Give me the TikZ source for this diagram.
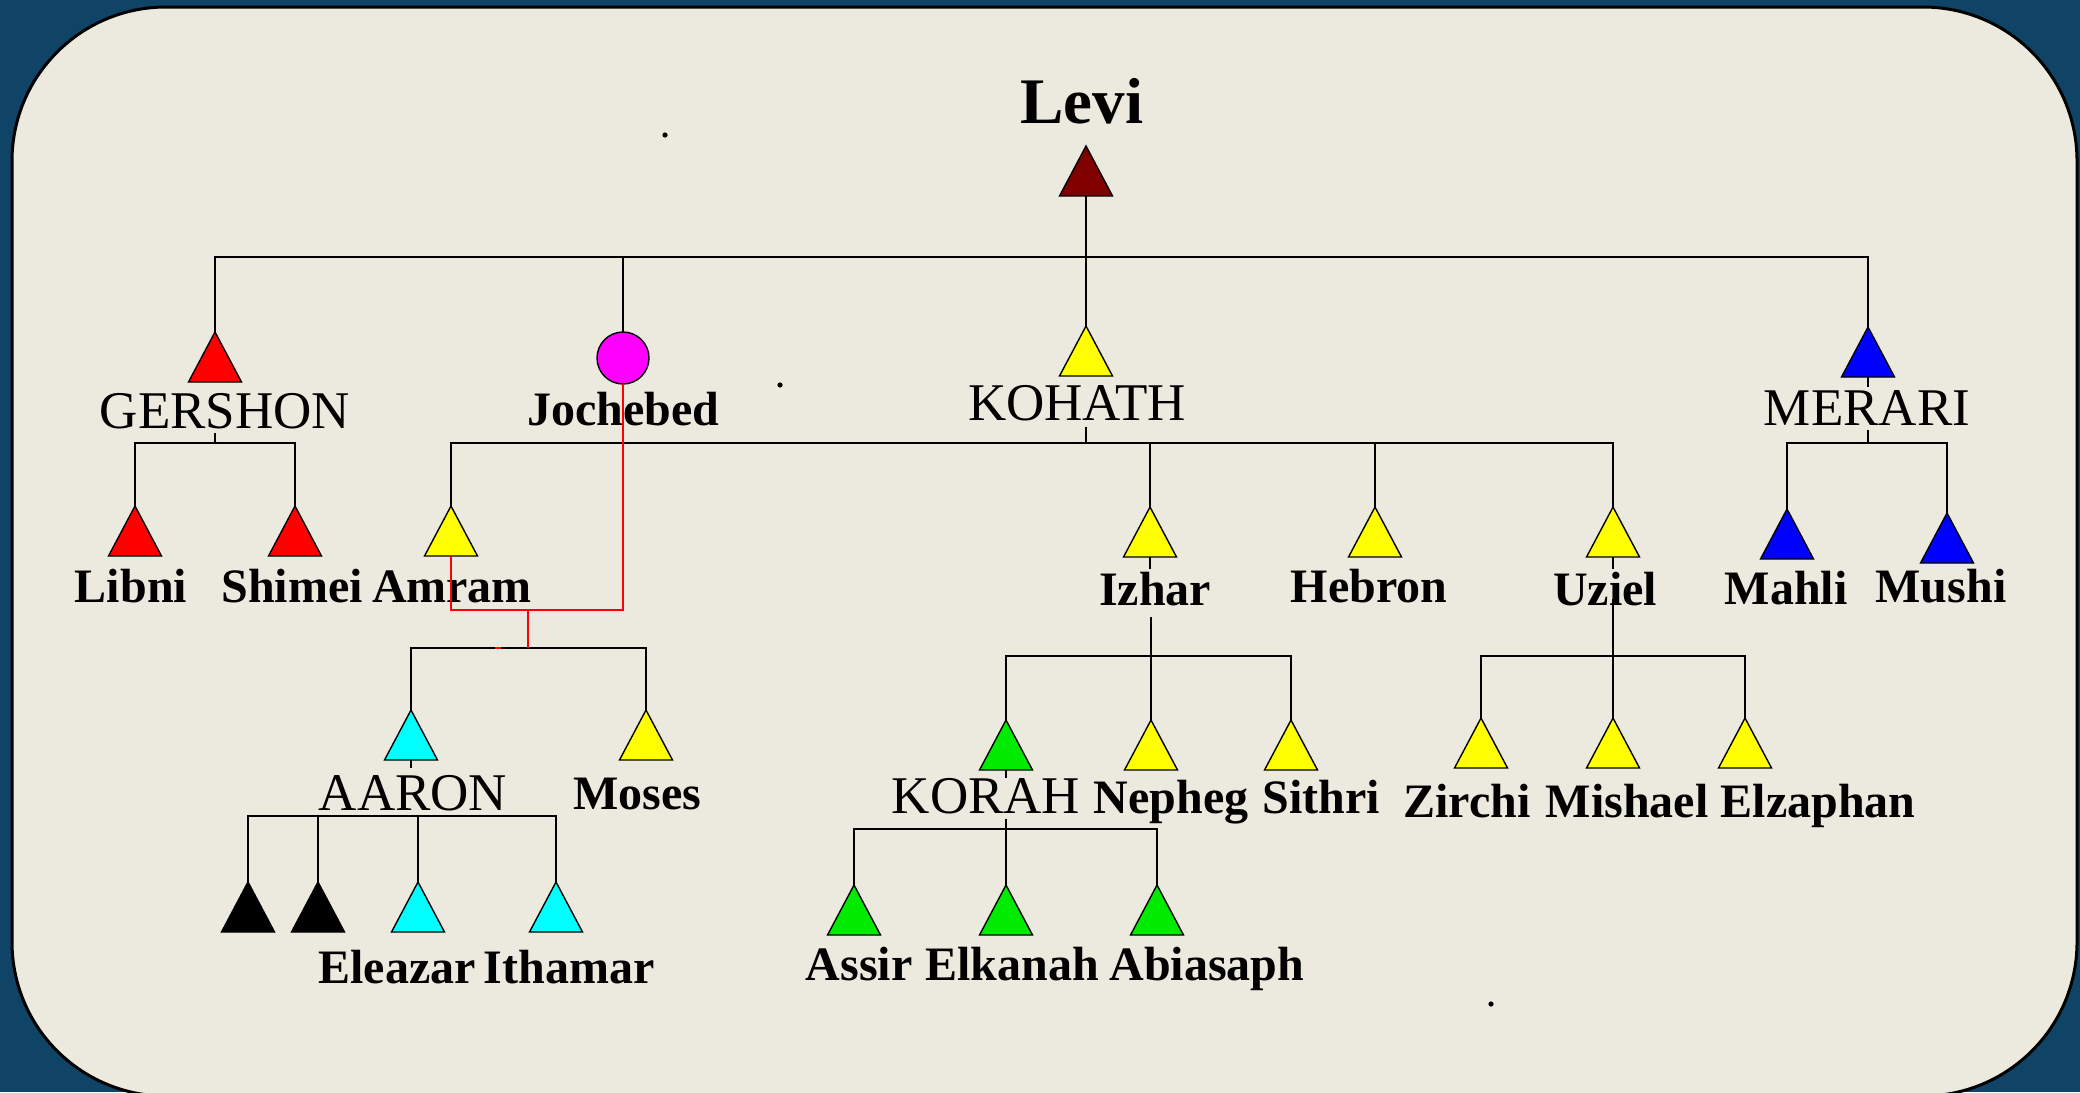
\documentclass[tikz,border=0pt]{standalone}
\usepackage{fontspec}
\setmainfont{Liberation Serif}
\usetikzlibrary{shapes.geometric,calc}
\definecolor{bgblue}{RGB}{16,68,102}
\definecolor{cardcol}{RGB}{236,234,223}
\definecolor{levired}{RGB}{128,0,0}
\definecolor{tgreen}{RGB}{0,235,0}
\definecolor{tred}{RGB}{255,0,0}
\definecolor{tyellow}{RGB}{255,255,0}
\definecolor{tblue}{RGB}{0,0,255}
\definecolor{tcyan}{RGB}{0,255,255}
\definecolor{tmagenta}{RGB}{255,0,255}
\newcommand{\tri}[4]{\node[trinode, fill=#4] (#1) at (#2,{#3+33.33}) {};}
\begin{document}
\begin{tikzpicture}[x=0.5pt,y=-0.5pt,
  trinode/.style={regular polygon, regular polygon sides=3, minimum size=33.33pt,
    inner sep=0pt, outer sep=0pt, xscale=0.918, draw=black, line width=0.7pt},
  wire/.style={line width=1.2pt, black},
  redwire/.style={line width=1pt, tred},
  lab/.style={font=\fontsize{24}{28}\selectfont\bfseries, anchor=base, inner sep=0pt},
  caps/.style={font=\fontsize{26.5}{30}\selectfont, anchor=base, inner sep=0pt},
  big/.style={font=\fontsize{32.5}{36}\selectfont\bfseries, anchor=base, inner sep=0pt},
]
% background and card
\fill[bgblue] (0,0) rectangle (2080,1092);
\useasboundingbox (0,0) rectangle (2080,1092);
\draw[fill=cardcol, line width=1.5pt, rounded corners=77pt] (12,7) rectangle (2077,1096);
% stray dots
\fill (665,135) circle (1.3pt);
\fill (780,385) circle (1.3pt);
\fill (1491,1004) circle (1.3pt);

% persons
\tri{levi}{1086}{146}{levired}
\tri{gershon}{215}{332}{tred}
\tri{kohath}{1086}{326}{tyellow}
\tri{merari}{1868}{327}{tblue}
\node[circle, draw=black, fill=tmagenta, minimum size=26pt, inner sep=0pt, outer sep=0pt, line width=0.7pt] (joch) at (623,358) {};
\tri{libni}{135}{506}{tred}
\tri{shimei}{295}{506}{tred}
\tri{amram}{451}{506}{tyellow}
\tri{izhar}{1150}{507}{tyellow}
\tri{hebron}{1375}{507}{tyellow}
\tri{uziel}{1613}{507}{tyellow}
\tri{mahli}{1787}{509}{tblue}
\tri{mushi}{1947}{513}{tblue}
\tri{aaron}{411}{710}{tcyan}
\tri{moses}{646}{710}{tyellow}
\tri{korah}{1006}{720}{tgreen}
\tri{nepheg}{1151}{720}{tyellow}
\tri{sithri}{1291}{720}{tyellow}
\tri{zirchi}{1481}{718}{tyellow}
\tri{mishael}{1613}{718}{tyellow}
\tri{elzaphan}{1745}{718}{tyellow}
\tri{sonA}{248}{882}{black}
\tri{sonB}{318}{882}{black}
\tri{eleazar}{418}{882}{tcyan}
\tri{ithamar}{556}{882}{tcyan}
\tri{assir}{854}{885}{tgreen}
\tri{elkanah}{1006}{885}{tgreen}
\tri{abiasaph}{1157}{885}{tgreen}

% labels
\node[big] (l-levi) at (1082,123) {Levi};
\node[caps] (l-gershon) at (225,428) {GERSHON};
\node[lab] (l-joch) at (623,425) {Jochebed};
\node[caps] (l-kohath) at (1077,420) {KOHATH};
\node[caps] (l-merari) at (1867,425) {MERARI};
\node[lab] (l-libni) at (131,602) {Libni};
\node[lab] (l-shimei) at (292,602) {Shimei};
\node[lab] (l-amram) at (452,602) {Amram};
\node[lab] (l-izhar) at (1155,605) {Izhar};
\node[lab] (l-hebron) at (1369,602) {Hebron};
\node[lab] (l-uziel) at (1605,605) {Uziel};
\node[lab] (l-mahli) at (1786,604) {Mahli};
\node[lab] (l-mushi) at (1941,602) {Mushi};
\node[caps] (l-aaron) at (413,810) {AARON};
\node[lab] (l-moses) at (637,809) {Moses};
\node[caps] (l-korah) at (986,813) {KORAH};
\node[lab] (l-nepheg) at (1171,813) {Nepheg};
\node[lab] (l-sithri) at (1321,813) {Sithri};
\node[lab] (l-zirchi) at (1467,817) {Zirchi};
\node[lab] (l-mishael) at (1627,817) {Mishael};
\node[lab] (l-elzaphan) at (1818,817) {Elzaphan};
\node[lab] (l-eleazar) at (397,983) {Eleazar};
\node[lab] (l-ithamar) at (569,983) {Ithamar};
\node[lab] (l-assir) at (859,980) {Assir};
\node[lab] (l-elkanah) at (1012,980) {Elkanah};
\node[lab] (l-abiasaph) at (1207,980) {Abiasaph};

% bar levels
\coordinate (topbar) at (0,257);
\coordinate (bar2) at (0,443);
\coordinate (rbar) at (0,610);
\coordinate (rstem) at (528,610);
\coordinate (bar3a) at (0,648);
\coordinate (bar3) at (0,656);
\coordinate (bar4) at (0,816);
\coordinate (bar5) at (0,829);

% Levi
\draw[wire] (levi.side 2) -- (kohath.corner 1);
\draw[wire] (gershon.corner 1) -- (gershon.corner 1 |- topbar) -- (merari.corner 1 |- topbar) -- (merari.corner 1);
\draw[wire] (joch.north) -- (joch.north |- topbar);

% Gershon
\draw[wire] ($(gershon.corner 1 |- l-gershon.base)+(0,5)$) -- (gershon.corner 1 |- bar2);
\draw[wire] (libni.corner 1) -- (libni.corner 1 |- bar2) -- (shimei.corner 1 |- bar2) -- (shimei.corner 1);

% Kohath
\draw[wire] ($(kohath.corner 1 |- l-kohath.base)+(0,7)$) -- (kohath.corner 1 |- bar2);
\draw[wire] (amram.corner 1) -- (amram.corner 1 |- bar2) -- (uziel.corner 1 |- bar2) -- (uziel.corner 1);
\draw[wire] (izhar.corner 1) -- (izhar.corner 1 |- bar2);
\draw[wire] (hebron.corner 1) -- (hebron.corner 1 |- bar2);

% Merari
\draw[wire] (merari.side 2) -- ++(0,10);
\draw[wire] ($(merari.corner 1 |- l-merari.base)+(0,5)$) -- (merari.corner 1 |- bar2);
\draw[wire] (mahli.corner 1) -- (mahli.corner 1 |- bar2) -- (mushi.corner 1 |- bar2) -- (mushi.corner 1);

% Izhar
\draw[wire] (izhar.side 2) -- ++(0,12);
\draw[wire] ($(nepheg.corner 1 |- l-izhar.base)+(0,12)$) -- (nepheg.corner 1);
\draw[wire] (korah.corner 1) -- (korah.corner 1 |- bar3) -- (sithri.corner 1 |- bar3) -- (sithri.corner 1);

% Uziel
\draw[wire] (uziel.side 2) -- ++(0,12);
\draw[wire] ($(mishael.corner 1 |- l-uziel.base)+(0,-6)$) -- (mishael.corner 1);
\draw[wire] (zirchi.corner 1) -- (zirchi.corner 1 |- bar3) -- (elzaphan.corner 1 |- bar3) -- (elzaphan.corner 1);

% Amram and Jochebed
\draw[wire] (aaron.corner 1) -- (aaron.corner 1 |- bar3a) -- (moses.corner 1 |- bar3a) -- (moses.corner 1);
\draw[redwire] (joch.south) -- (joch.south |- rbar) -- (amram.side 2 |- rbar) -- (amram.side 2);
\draw[redwire] (rstem) -- (rstem |- bar3a);
\draw[tred, line width=1pt] (495,648) -- (501,648);

% Aaron
\draw[wire] (aaron.side 2) -- ++(0,8);
\draw[wire] (sonA.corner 1) -- (sonA.corner 1 |- bar4) -- (ithamar.corner 1 |- bar4) -- (ithamar.corner 1);
\draw[wire] (sonB.corner 1) -- (sonB.corner 1 |- bar4);
\draw[wire] (eleazar.corner 1) -- (eleazar.corner 1 |- bar4);

% Korah
\draw[wire] (korah.side 2) -- ++(0,8);
\draw[wire] ($(korah.corner 1 |- l-korah.base)+(0,6)$) -- (korah.corner 1 |- bar5);
\draw[wire] (assir.corner 1) -- (assir.corner 1 |- bar5) -- (abiasaph.corner 1 |- bar5) -- (abiasaph.corner 1);
\draw[wire] (elkanah.corner 1) -- (elkanah.corner 1 |- bar5);
\end{tikzpicture}
\end{document}
